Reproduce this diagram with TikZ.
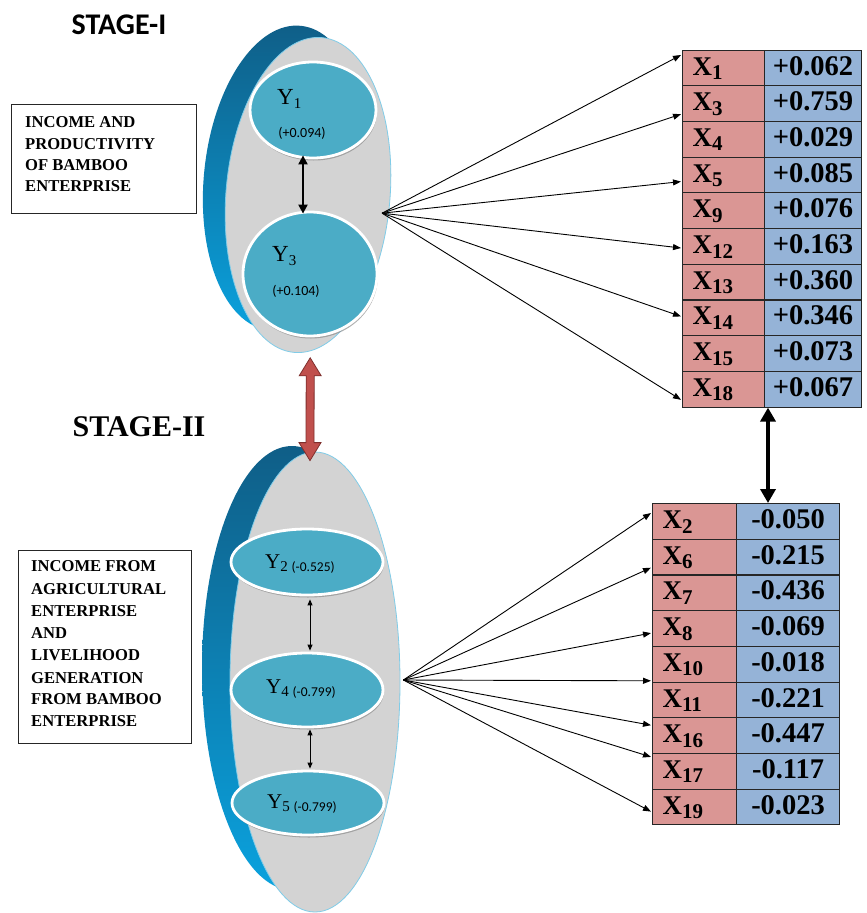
\documentclass[tikz,border=0pt]{standalone}
\usepackage{fontspec}
\setmainfont{Liberation Serif}
\newfontfamily\calib{Carlito}
\usetikzlibrary{arrows.meta,calc,shapes.geometric,shadows}
\definecolor{pinkc}{HTML}{DA9694}
\definecolor{bluec}{HTML}{95B3D7}
\definecolor{tealc}{HTML}{4BACC6}
\definecolor{grayc}{HTML}{D3D3D3}
\definecolor{rimc}{HTML}{80CCE8}
\definecolor{cresctop}{HTML}{0F5E87}
\definecolor{crescbot}{HTML}{0AA2DE}
\definecolor{redc}{HTML}{C0504D}
\definecolor{redd}{HTML}{7F2F2D}
\newcommand\xsub[1]{\raisebox{-4.5pt}{\fontsize{21}{21}\selectfont #1}}
\begin{document}
\begin{tikzpicture}[x=1pt,y=-1pt,
  grayoval/.style={ellipse, draw=rimc, line width=0.8pt, fill=grayc, inner sep=0pt},
  tealoval/.style={ellipse, draw=white, line width=2.8pt, fill=tealc, inner sep=0pt,
     drop shadow={shadow xshift=0.8pt, shadow yshift=-2.5pt, fill=black!45, opacity=0.7}},
  lcell/.style={draw=black!85, line width=1.1pt, fill=pinkc, anchor=north west,
     minimum height=35.7pt, inner ysep=0pt, inner xsep=10pt, text height=20pt,
     text depth=5.7pt, align=left, font=\fontsize{27}{27}\selectfont\bfseries},
  vcell/.style={draw=black!85, line width=1.1pt, fill=bluec, anchor=north west,
     minimum height=35.7pt, inner ysep=0pt, inner xsep=0pt, text height=20pt,
     text depth=5.7pt, font=\fontsize{28.5}{28.5}\selectfont\bfseries},
  fan/.style={-{Triangle[length=8pt,width=6pt]}, line width=0.9pt, black},
  boxtext/.style={anchor=base west, inner sep=0pt, font=\fontsize{16.6}{16.6}\selectfont\bfseries},
  ylabel/.style={anchor=base west, inner sep=0pt},
  yval/.style={inner sep=0pt, font=\calib\fontsize{14}{14}\selectfont},
  legendbox/.style={draw=black!85, line width=1.2pt, anchor=north west, inner sep=0pt}
]
\useasboundingbox (0,0) rectangle (867,913);
\fill[white] (0,0) rectangle (867,913);

% Stage titles
\node[font=\calib\bfseries\fontsize{30}{30}\selectfont, inner sep=0pt] (s1) at (119,25) {STAGE-I};
\node[font=\bfseries\fontsize{30}{30}\selectfont, inner sep=0pt] (s2) at (139,427) {STAGE-II};

% crescents
\shade[top color=cresctop, bottom color=crescbot, rotate around={-6:(285,178)}] (285,178) ellipse [x radius=81, y radius=153];
\shade[top color=cresctop, bottom color=crescbot] (292,668) ellipse [x radius=90, y radius=222];

% gray ovals
\node[grayoval, minimum width=164pt, minimum height=316pt, rotate=-5] (g1) at (308,195) {};
\node[grayoval, minimum width=170pt, minimum height=460pt] (g2) at (315,682) {};

% teal ovals
\node[tealoval, minimum width=126pt, minimum height=96pt] (y1) at (313,110) {};
\node[tealoval, minimum width=134pt, minimum height=124pt] (y3) at (310,274) {};
\node[tealoval, minimum width=152pt, minimum height=66pt] (y2) at (307,562) {};
\node[tealoval, minimum width=152pt, minimum height=74pt] (y4) at (307,690) {};
\node[tealoval, minimum width=152pt, minimum height=64pt] (y5) at (308,803) {};

% oval texts
\node[ylabel, font=\fontsize{23}{23}\selectfont] (y1t) at (277,104) {Y\raisebox{-4pt}{\fontsize{15}{15}\selectfont 1}};
\node[yval] (y1v) at (302,133) {(+0.094)};
\node[ylabel, font=\fontsize{23}{23}\selectfont] (y3t) at (272,261) {Y\raisebox{-4pt}{\fontsize{15}{15}\selectfont 3}};
\node[yval] (y3v) at (296,291) {(+0.104)};
\node[ylabel, font=\fontsize{21}{21}\selectfont] (y2t) at (265,568) {Y\raisebox{-3pt}{\fontsize{15}{15}\selectfont 2 {\calib\fontsize{13.5}{13.5}\selectfont(-0.525)}}};
\node[ylabel, font=\fontsize{21}{21}\selectfont] (y4t) at (266,693) {Y\raisebox{-3pt}{\fontsize{15}{15}\selectfont 4 {\calib\fontsize{13.5}{13.5}\selectfont(-0.799)}}};
\node[ylabel, font=\fontsize{21}{21}\selectfont] (y5t) at (267,808) {Y\raisebox{-3pt}{\fontsize{15}{15}\selectfont 5 {\calib\fontsize{13.5}{13.5}\selectfont(-0.799)}}};

% inner arrows
\draw[line width=2pt, {Triangle[length=9pt,width=9pt]}-{Triangle[length=9pt,width=9pt]}]
  ($(y1.south)+(-10,-4)$) -- ($(y3.north)+(-7,3)$);
\draw[line width=1pt, {Triangle[length=6pt,width=5pt]}-{Triangle[length=6pt,width=5pt]}]
  ($(y2.south)+(3,3)$) -- ($(y4.north)+(3,-1)$);
\draw[line width=1pt, {Triangle[length=6pt,width=5pt]}-{Triangle[length=6pt,width=5pt]}]
  ($(y4.south)+(3,1)$) -- ($(y5.north)+(2,-1)$);

% red double arrow between stages
\coordinate (rtop) at ($(g1.south)+(16,5)$);
\coordinate (rbot) at ($(g2.north)+(-5,9)$);
\filldraw[fill=redc, draw=redd, line width=0.8pt, line join=miter]
  (rtop) -- ++(11,18) -- ++(-7,0) -- ($(rbot)+(4,-18)$) -- ++(7,0) -- (rbot)
  -- ++(-11,-18) -- ++(7,0) -- ($(rtop)+(-4,18)$) -- ++(-7,0) -- cycle;

% legend boxes
\node[legendbox, minimum width=185pt, minimum height=109pt] (box1) at (11,104) {};
\foreach \t/\b [count=\i] in {INCOME AND/127,PRODUCTIVITY/149,OF BAMBOO/170,ENTERPRISE/191}
  \node[boxtext] (b1l\i) at (25,\b) {\t};
\node[legendbox, minimum width=173pt, minimum height=193pt] (box2) at (18,550) {};
\foreach \t/\b [count=\i] in {INCOME FROM/571,AGRICULTURAL/594,ENTERPRISE/616,AND/638,LIVELIHOOD/660,GENERATION/683,FROM BAMBOO/704,ENTERPRISE/726}
  \node[boxtext] (b2l\i) at (31,\b) {\t};

% top table
\foreach \s/\v [count=\i] in {1/+0.062,3/+0.759,4/+0.029,5/+0.085,9/+0.076,12/+0.163,13/+0.360,14/+0.346,15/+0.073,18/+0.067}{
  \node[lcell, text width=62pt] (tl\i) at (682,{49.5+(\i-1)*35.7}) {X\xsub{\s}};
  \node[vcell, minimum width=97pt] (tv\i) at (764,{49.5+(\i-1)*35.7}) {\v};
}
% bottom table
\foreach \s/\v [count=\i] in {2/-0.050,6/-0.215,7/-0.436,8/-0.069,10/-0.018,11/-0.221,16/-0.447,17/-0.117,19/-0.023}{
  \node[lcell, text width=64pt] (bl\i) at (652,{503+(\i-1)*35.7}) {X\xsub{\s}};
  \node[vcell, minimum width=103pt] (bv\i) at (736,{503+(\i-1)*35.7}) {\v};
}

% fans
\coordinate (f1) at ($(g1.east)+(-8,11)$);
\coordinate (f2) at ($(g2.east)+(3,-2)$);
\foreach \r/\o in {1/5.5,2/29,4/25,6/20,8/17,10/29}
  \draw[fan] (f1) -- ($(tl\r.north west)+(-1,\o)$);
\foreach \r/\o in {1/10,2/29,4/23,5/35,7/8,8/4,9/23}
  \draw[fan] (f2) -- ($(bl\r.north west)+(-1,\o)$);

% thick arrow between tables
\draw[line width=4.5pt, {Triangle[length=14pt,width=15pt]}-{Triangle[length=14pt,width=15pt]}]
  ($(tv10.south west)+(4,0)$) -- ($(bv1.north west)+(32,0)$);
\end{tikzpicture}
\end{document}
